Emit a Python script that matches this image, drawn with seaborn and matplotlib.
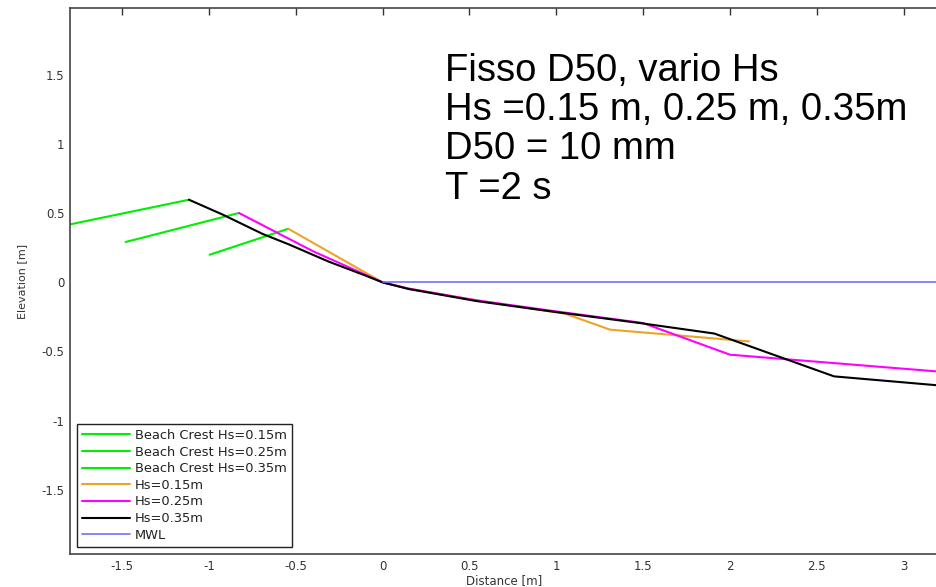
import matplotlib
matplotlib.use("Agg")
import matplotlib.pyplot as plt
import seaborn as sns
import pandas as pd

# Beach crest lines (green)
crest15_x = [-0.996, -0.543]
crest15_y = [0.200, 0.388]
crest25_x = [-1.48, -0.827]
crest25_y = [0.292, 0.502]
crest35_x = [-1.81, -1.115]
crest35_y = [0.417, 0.598]

# Profiles
hs15_x = [-0.543, 0.0, 0.15, 0.54, 1.05, 1.31, 1.65, 2.11]
hs15_y = [0.388, 0.0, -0.045, -0.13, -0.226, -0.342, -0.378, -0.427]
hs25_x = [-0.827, -0.4, 0.0, 0.15, 0.54, 1.0, 1.5, 2.0, 3.2]
hs25_y = [0.502, 0.225, 0.0, -0.045, -0.13, -0.21, -0.294, -0.523, -0.645]
hs35_x = [-1.115, -0.92, -0.69, -0.54, -0.31, -0.1, 0.0, 0.15, 0.54, 1.0, 1.48, 1.91, 2.6, 3.2]
hs35_y = [0.598, 0.49, 0.35, 0.275, 0.15, 0.05, 0.0, -0.048, -0.135, -0.215, -0.294, -0.37, -0.68, -0.745]
mwl_x = [0.0, 3.2]
mwl_y = [0.0, 0.0]

labels = ["Beach Crest Hs=0.15m", "Beach Crest Hs=0.25m", "Beach Crest Hs=0.35m",
          "Hs=0.15m", "Hs=0.25m", "Hs=0.35m", "MWL"]
colors = ["#00ee00", "#00ee00", "#00ee00", "#eba524", "#ff00ff", "#000000", "#7070ff"]
widths = [1.5, 1.5, 1.5, 1.5, 1.5, 1.5, 1.2]

sns.set_style("white")
plt.rcParams["font.family"] = ["DejaVu Sans"]

fig = plt.figure(figsize=(9.36, 5.87), dpi=100)
ax = fig.add_axes([70 / 936, 33 / 587, 868.3 / 936, 546 / 587])

series = [(crest15_x, crest15_y), (crest25_x, crest25_y), (crest35_x, crest35_y),
          (hs15_x, hs15_y), (hs25_x, hs25_y), (hs35_x, hs35_y), (mwl_x, mwl_y)]
for (xs, ys), lab, col, lw in zip(series, labels, colors, widths):
    df = pd.DataFrame({"x": xs, "y": ys})
    sns.lineplot(data=df, x="x", y="y", ax=ax, sort=False, estimator=None,
                 color=col, linewidth=lw, label=lab)

ax.set_xlim(-1.8, 3.2)
ax.set_ylim(-1.965, 1.985)
ax.set_xticks([-1.5, -1, -0.5, 0, 0.5, 1, 1.5, 2, 2.5, 3])
ax.set_xticklabels(["-1.5", "-1", "-0.5", "0", "0.5", "1", "1.5", "2", "2.5", "3"])
ax.set_yticks([-1.5, -1, -0.5, 0, 0.5, 1, 1.5])
ax.set_yticklabels(["-1.5", "-1", "-0.5", "0", "0.5", "1", "1.5"])
ax.tick_params(direction="in", length=5, width=1, color="#333333", labelcolor="#333333",
               labelsize=8.5, top=True, right=False, pad=4)
for s in ax.spines.values():
    s.set_color("#444444")
    s.set_linewidth(1.2)
ax.set_xlabel("Distance [m]", fontsize=8.5, color="#333333", labelpad=1)
ax.set_ylabel("Elevation [m]", fontsize=8, color="#333333", labelpad=10)

ax.text(0.4315, 0.918, "Fisso D50, vario Hs\nHs =0.15 m, 0.25 m, 0.35m\nD50 = 10 mm\nT =2 s",
        transform=ax.transAxes, fontsize=27.5, va="top", ha="left", linespacing=1.12,
        color="black", family=["Liberation Sans"])

leg = ax.legend(loc="lower left", bbox_to_anchor=(0.008, 0.0128), borderaxespad=0,
                fontsize=9.4, frameon=True, fancybox=False, framealpha=1,
                edgecolor="#222222", handlelength=3.7, handletextpad=0.35,
                labelspacing=0.28, borderpad=0.4)
leg.get_frame().set_linewidth(1.0)
for t in leg.get_texts():
    t.set_color("#222222")

fig.savefig("out.png", dpi=100)
